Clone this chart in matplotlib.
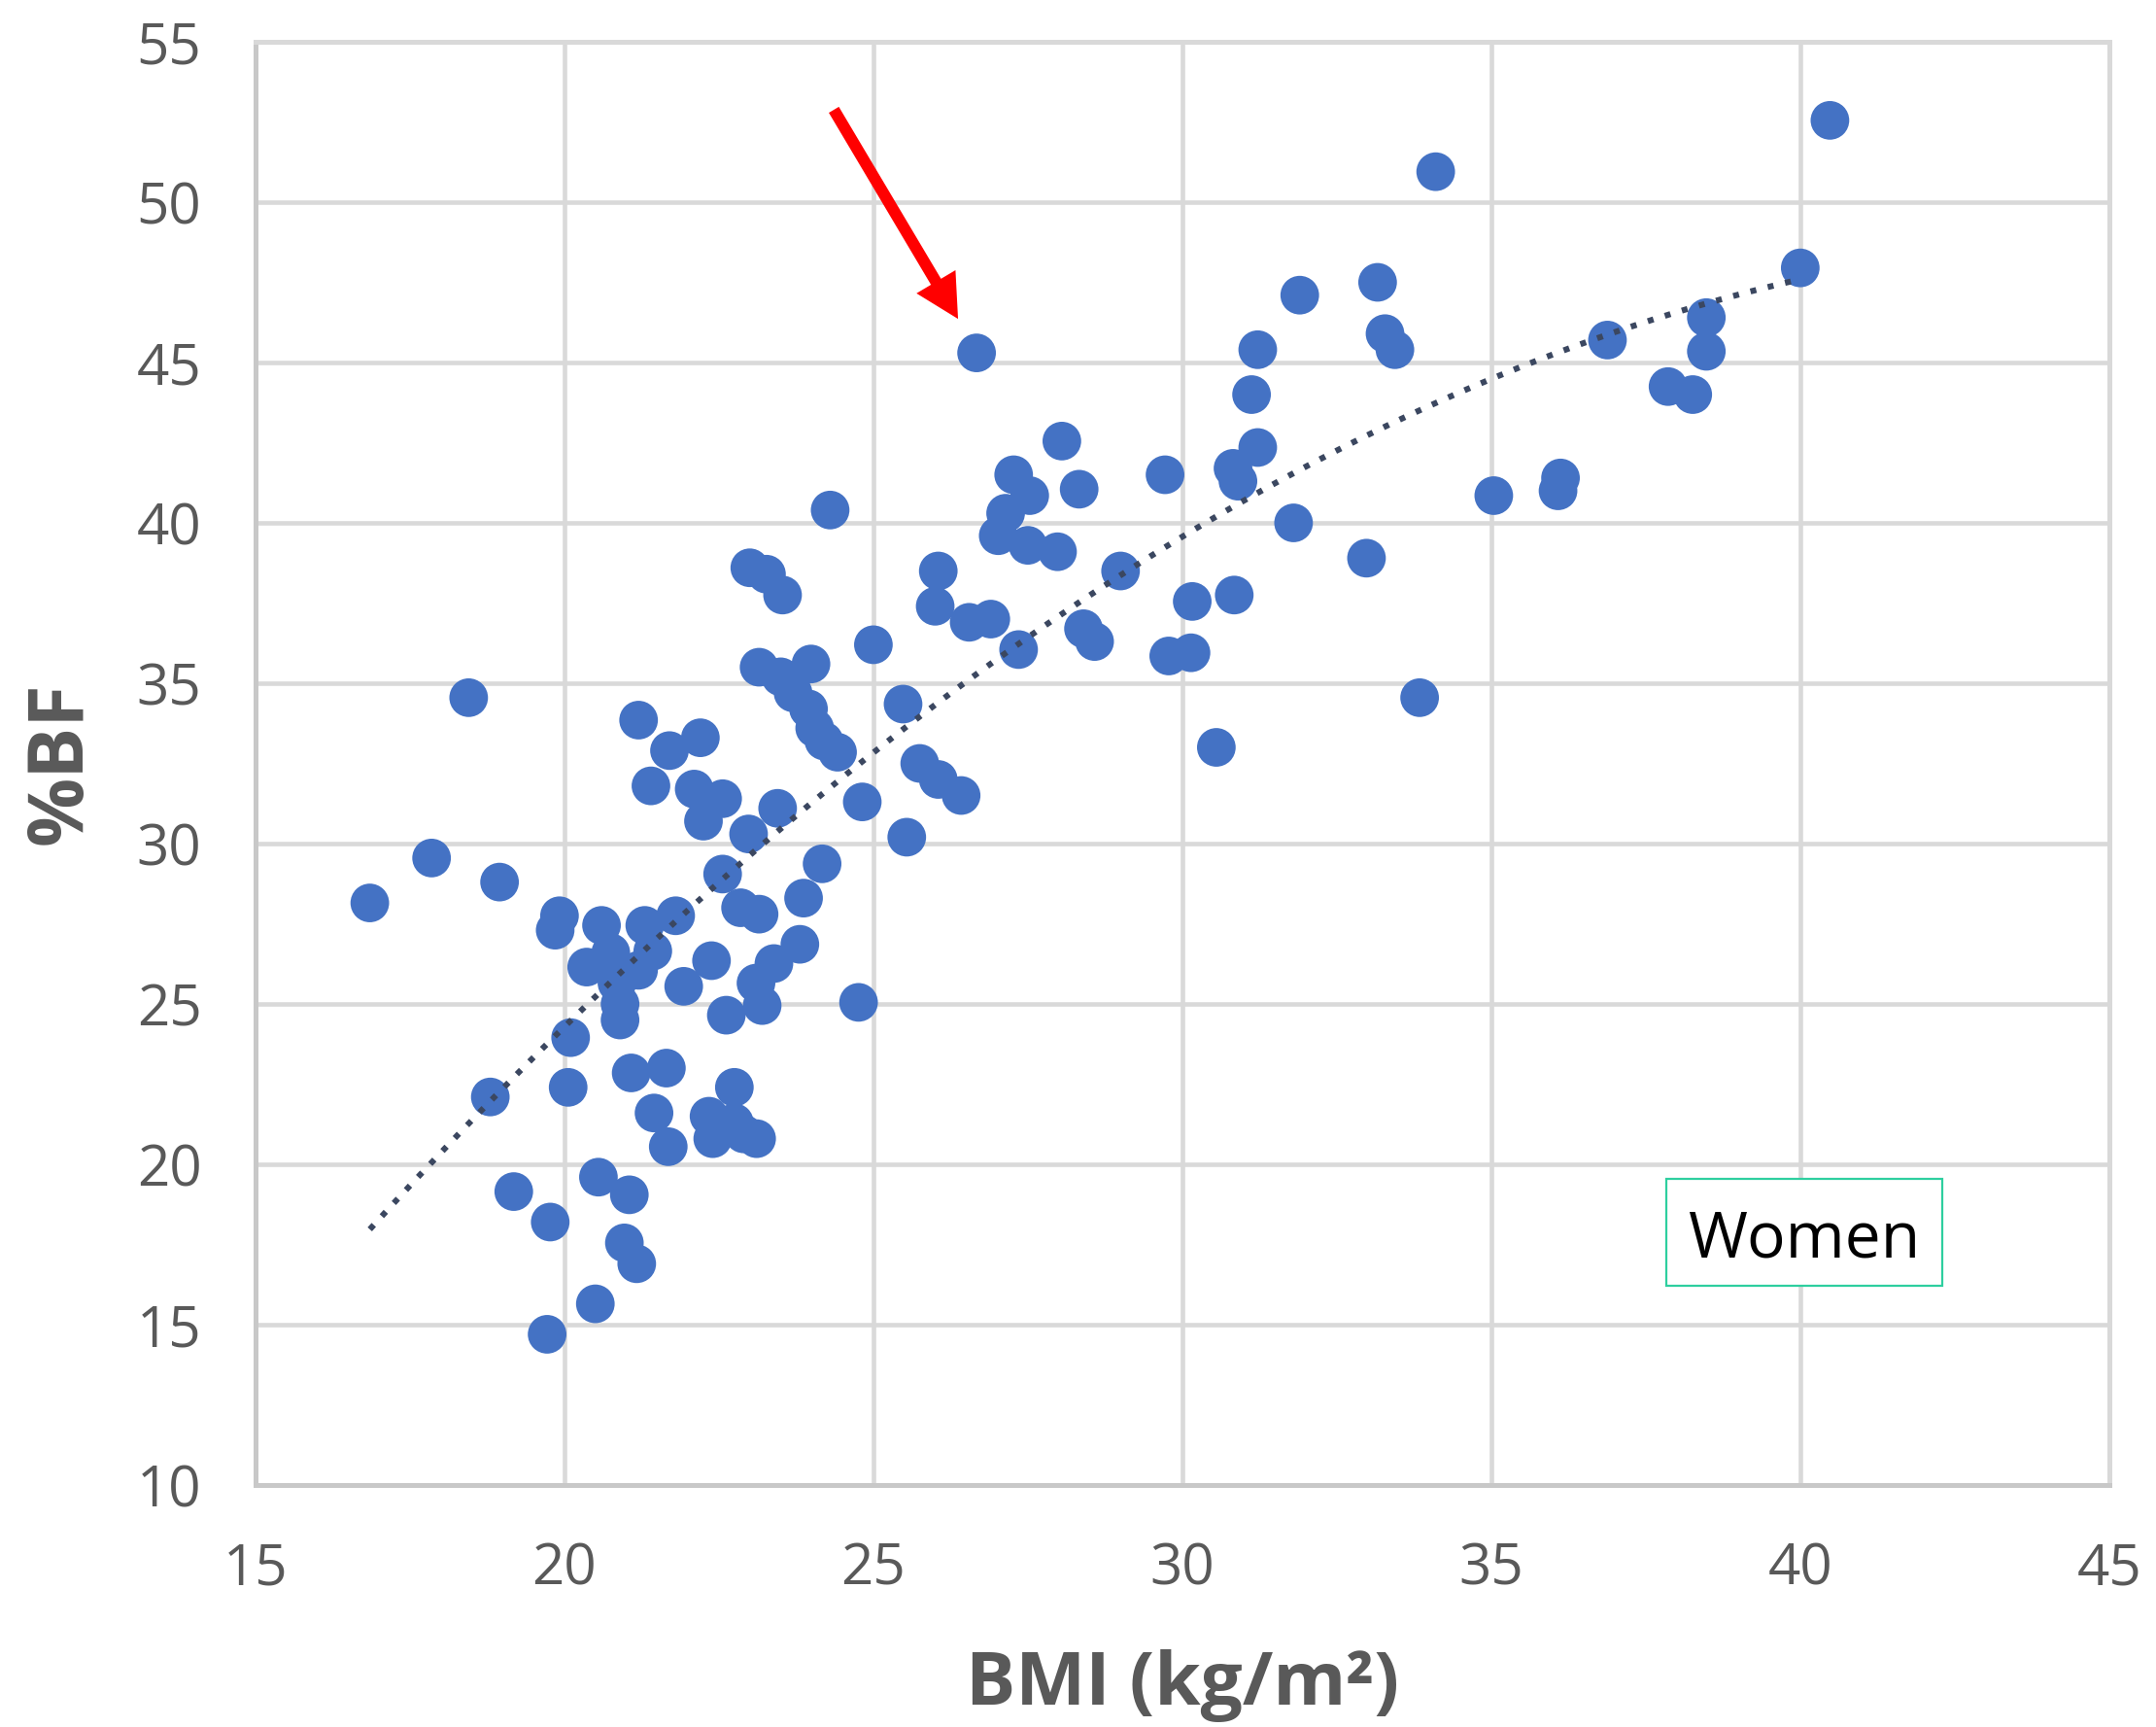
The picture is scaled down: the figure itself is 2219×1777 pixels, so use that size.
import numpy as np
import matplotlib
matplotlib.use("Agg")
import matplotlib.pyplot as plt
from matplotlib.patches import Rectangle

# ---- data ----
bmi = [16.85, 17.85, 18.45, 18.95, 18.8, 19.18, 19.77, 19.72, 19.92, 19.85,
       20.1, 20.06, 20.5, 20.55, 20.6, 20.36, 20.75, 20.85, 20.9, 20.9,
       20.97, 21.05, 21.08, 21.17, 21.2, 21.3, 21.43, 21.2, 21.4, 21.7,
       21.8, 21.93, 21.65, 21.45, 21.68, 22.2, 22.1, 22.25, 22.56, 22.56,
       22.38, 22.62, 22.75, 22.34, 22.4, 22.75, 22.98, 22.85, 23.15, 23.11,
       22.9, 23.0, 23.27, 23.53, 23.15, 23.5, 23.99, 23.7, 23.95, 24.05,
       24.2, 24.42, 23.45, 23.87, 23.81, 23.39, 23.1, 23.2, 24.17, 24.3,
       24.82, 24.76, 25.0, 25.48, 25.54, 25.75, 26.05, 26.42, 26.05, 26.0,
       26.55, 26.9, 26.67, 27.35, 27.27, 27.53, 27.14, 27.02, 27.5, 27.98,
       28.05, 28.33, 28.4, 28.58, 29.0, 29.72, 29.78, 30.14, 30.16, 30.84,
       30.55, 30.82, 30.9, 31.12, 31.22, 31.22, 31.8, 31.9, 32.98, 33.16,
       33.28, 33.44, 33.84, 34.1, 35.04, 36.08, 36.12, 36.88, 37.86, 38.26,
       38.48, 38.48, 40.0, 40.48]
pct_bf = [28.15, 29.55, 34.55, 28.8, 22.1, 19.15, 18.2, 14.7, 27.75, 27.3,
          23.95, 22.4, 15.65, 19.6, 27.45, 26.15, 26.6, 25.65, 25.0, 24.5,
          17.55, 19.05, 22.85, 16.9, 33.85, 27.45, 26.65, 26.05, 31.8, 32.9,
          27.75, 25.55, 23.0, 21.6, 20.55, 33.3, 31.7, 30.7, 31.4, 29.05,
          26.35, 24.65, 22.4, 21.5, 20.8, 21.3, 30.3, 28.0, 27.8, 20.8,
          20.95, 38.6, 38.4, 37.75, 35.5, 35.2, 35.6, 34.7, 34.2, 33.6,
          33.2, 32.85, 31.1, 28.3, 26.86, 26.26, 25.65, 24.95, 29.37, 40.4,
          31.3, 25.05, 36.2, 34.35, 30.2, 32.5, 32.0, 31.5, 38.5, 37.4,
          36.9, 37.0, 45.3, 36.05, 41.5, 40.85, 40.3, 39.6, 39.3, 39.1,
          42.55, 41.05, 36.7, 36.3, 38.5, 41.5, 35.85, 35.95, 37.55, 37.75,
          33.0, 41.7, 41.3, 44.0, 45.4, 42.35, 40.0, 47.1, 38.9, 47.5,
          45.9, 45.4, 34.55, 50.95, 40.85, 41.0, 41.4, 45.7, 44.25, 44.0,
          46.4, 45.35, 47.95, 52.55]

x_ticks = [15, 20, 25, 30, 35, 40, 45]
y_ticks = [10, 15, 20, 25, 30, 35, 40, 45, 50, 55]
x_label = "BMI (kg/m²)"
y_label = "%BF"
box_label = "Women"
trend_x_end = 40.0          # polynomial (order 2) trendline ends here
arrow_tail = (24.36, 52.88)
arrow_tip = (26.37, 46.36)
box_xy = (37.83, 16.21)
box_wh = (4.47, 3.34)
box_text_baseline = 17.1

# ---- figure ----
plt.rcParams['font.family'] = ['Open Sans', 'DejaVu Sans']
fig = plt.figure(figsize=(22.19, 17.77), dpi=100)
ax = fig.add_axes([0.1185, 0.1401, 0.8598, 0.8357])

ax.scatter(bmi, pct_bf, s=820, color='#4472C4', edgecolors='none', zorder=3)

# quadratic trendline (Excel-style polynomial fit)
coef = np.polyfit(bmi, pct_bf, 2)
xt = np.linspace(min(bmi), trend_x_end, 300)
ax.plot(xt, np.polyval(coef, xt), color='#3B4760', lw=4.4,
        linestyle=(0, (1, 2.0)), dash_capstyle='butt', zorder=4)

ax.set_xlim(15, 45)
ax.set_ylim(10, 55)
ax.set_xticks(x_ticks)
ax.set_yticks(y_ticks)
ax.tick_params(axis='both', length=0, labelsize=42, labelcolor='#595959')
ax.tick_params(axis='x', pad=42)
ax.tick_params(axis='y', pad=40)
ax.grid(True, color='#D9D9D9', lw=3.3, zorder=0)
ax.set_axisbelow(True)
for side, sp in ax.spines.items():
    sp.set_color('#D9D9D9' if side in ('top', 'right') else '#C8C8C8')
    sp.set_linewidth(3.6)

ax.set_xlabel(x_label, fontsize=55, fontweight='bold', color='#595959', va='baseline')
ax.xaxis.set_label_coords(0.5, -0.152)
ax.set_ylabel(y_label, fontsize=57, fontweight='bold', color='#595959', va='center')
ax.yaxis.set_label_coords(-0.1048, 0.5)

# red arrow annotation
ax.annotate('', xy=arrow_tip, xytext=arrow_tail,
            arrowprops=dict(arrowstyle='simple,head_length=1.0,head_width=1.05,tail_width=0.27',
                            mutation_scale=32, color='#FF0000', lw=0,
                            shrinkA=0, shrinkB=0), zorder=6)

# "Women" label box
ax.add_patch(Rectangle(box_xy, box_wh[0], box_wh[1], facecolor='white',
                       edgecolor='#2ECF9F', lw=1.6, zorder=5))
ax.text(box_xy[0] + box_wh[0] / 2, box_text_baseline, box_label,
        fontsize=47.5, color='black', ha='center', va='baseline', zorder=6)

fig.savefig('out.png', dpi=100, facecolor='white')
